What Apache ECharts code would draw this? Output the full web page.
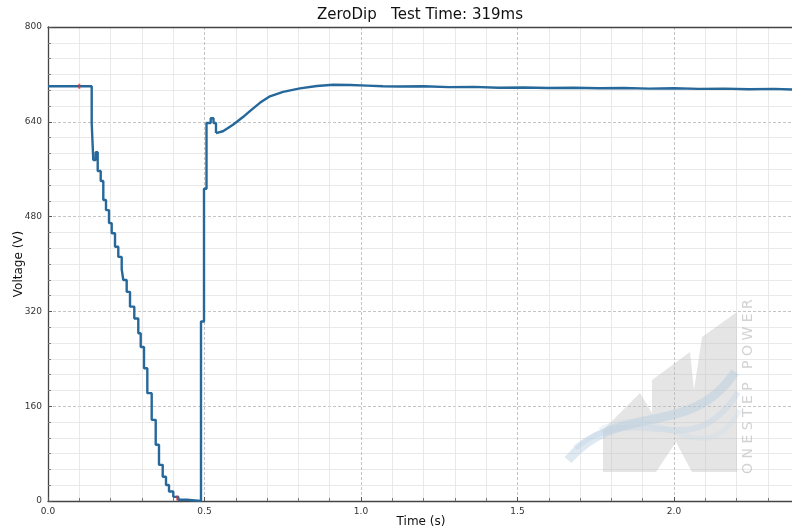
<!DOCTYPE html>
<html>
<head>
<meta charset="utf-8">
<script src="https://cdn.jsdelivr.net/npm/echarts@6/dist/echarts.min.js"></script>
<style>
  html, body { margin: 0; padding: 0; background: #fff; }
  #chart { width: 792px; height: 531px; }
</style>
</head>
<body>
<div id="chart"></div>
<script>
// Dip phase: RMS steps (value changes at each time)
const stepTime = [0, 0.1396, 0.1447, 0.1524, 0.1588, 0.1684, 0.1767, 0.1853, 0.1949, 0.2035,
  0.2141, 0.2246, 0.2355, 0.2406, 0.2514, 0.2620, 0.2757, 0.2885, 0.2962, 0.3067,
  0.3173, 0.3313, 0.3441, 0.3546, 0.3665, 0.3770, 0.3866, 0.4003, 0.4163, 0.4431,
  0.4888, 0.4984, 0.5064, 0.5198, 0.5288, 0.5367];
const stepVolt = [700, 638, 575.5, 588.5, 557, 540, 508, 491, 469, 452,
  429, 412, 391, 373, 353, 328, 308, 283, 260, 224,
  182, 137, 95, 61, 41, 27, 16, 7, 2, 0,
  303, 527, 638, 646, 638, 621];

// Recovery phase
const recTime = [0.5367, 0.559, 0.591, 0.623, 0.645, 0.677, 0.709, 0.751, 0.805, 0.859,
  0.911, 0.965, 1.019, 1.07, 1.125, 1.2, 1.28, 1.36, 1.44, 1.52,
  1.6, 1.68, 1.76, 1.84, 1.92, 2.0, 2.08, 2.16, 2.24, 2.32, 2.377];
const recVolt = [621, 624, 635, 648, 658, 672, 683, 690.5, 696.5, 700.5,
  702.5, 702, 701, 700, 699.5, 700, 698.5, 699, 697.5, 698,
  697, 697.5, 696.5, 697, 696, 696.5, 695.5, 696, 695, 695.5, 694.5];

// small red markers peeking from under the trace
const redTime = [0.1, 0.413];
const redVolt = [700, 5];

const xMax = 2.377;
const yTicks = [0, 160, 320, 480, 640, 800];
const xTicks = ["0.0", "0.5", "1.0", "1.5", "2.0"];

const lineColor = "#27689a";
const chart = echarts.init(document.getElementById("chart"));

const pair = (t, v) => t.map((x, i) => [x, v[i]]);

const option = {
  animation: false,
  backgroundColor: "#fff",
  grid: { left: 48, top: 27, right: 0, bottom: 30, containLabel: false, outerBoundsMode: "none" },
  xAxis: [
    {
      type: "value",
      min: 0,
      max: xMax,
      interval: 0.5,
      axisLine: { show: true, lineStyle: { color: "#444", width: 1.3 } },
      axisTick: { show: true, inside: true, length: 4, lineStyle: { color: "#555" } },
      minorTick: { show: true, splitNumber: 5, length: 3, lineStyle: { color: "#777" } },
      axisLabel: {
        color: "#333", fontSize: 9, margin: 6, fontFamily: "DejaVu Sans",
        showMaxLabel: false,
        formatter: v => xTicks[Math.round(v / 0.5)] ?? ""
      },
      splitLine: { show: true, lineStyle: { color: "#b5b5b5", type: [3, 2], width: 0.8 } },
      minorSplitLine: { show: true, lineStyle: { color: "#e3e3e3", width: 0.8 } }
    },
    {
      type: "value",
      position: "top",
      min: 0,
      max: xMax,
      axisLine: { show: true, lineStyle: { color: "#444", width: 1.3 } },
      axisTick: { show: false },
      axisLabel: { show: false },
      splitLine: { show: false }
    }
  ],
  yAxis: {
    type: "value",
    min: 0,
    max: 800,
    interval: 160,
    axisLine: { show: true, lineStyle: { color: "#444", width: 1.3 } },
    axisTick: { show: true, inside: true, length: 4, lineStyle: { color: "#555" } },
    minorTick: { show: true, splitNumber: 6, length: 3, lineStyle: { color: "#777" } },
    axisLabel: {
      color: "#333", fontSize: 9, margin: 6, fontFamily: "DejaVu Sans",
      formatter: v => (yTicks.includes(v) ? String(v) : "")
    },
    name: "Voltage (V)",
    nameLocation: "middle",
    nameGap: 23,
    nameMoveOverlap: false,
    nameTextStyle: { color: "#111", fontSize: 12, fontFamily: "DejaVu Sans" },
    splitLine: { show: true, lineStyle: { color: "#b5b5b5", type: [3, 2], width: 0.8 } },
    minorSplitLine: { show: true, lineStyle: { color: "#e3e3e3", width: 0.8 } }
  },
  graphic: [
    {
      type: "text", x: 420, y: 8, z: 10,
      style: {
        text: "ZeroDip   Test Time: 319ms", textAlign: "center",
        fontSize: 15, fontFamily: "DejaVu Sans", fill: "#111"
      }
    },
    {
      type: "text", x: 421, y: 516, z: 10,
      style: {
        text: "Time (s)", textAlign: "center",
        fontSize: 12, fontFamily: "DejaVu Sans", fill: "#111"
      }
    },
    // watermark logo
    {
      type: "polygon", z: 1,
      shape: {
        points: [[603, 472], [603, 430], [640, 393], [652, 413], [652, 380], [690, 352],
          [694, 390], [702, 337], [737, 312], [737, 472], [692, 472], [676, 442], [656, 472]]
      },
      style: { fill: "rgba(190,190,190,0.4)" }
    },
    {
      type: "bezierCurve", z: 2,
      shape: { x1: 568, y1: 460, x2: 735, y2: 372, cpx1: 620, cpy1: 400, cpx2: 690, cpy2: 440 },
      style: { stroke: "rgba(175,200,220,0.4)", lineWidth: 9, fill: "none" }
    },
    {
      type: "bezierCurve", z: 2,
      shape: { x1: 575, y1: 448, x2: 738, y2: 392, cpx1: 640, cpy1: 395, cpx2: 690, cpy2: 470 },
      style: { stroke: "rgba(190,210,228,0.35)", lineWidth: 6, fill: "none" }
    },
    {
      type: "bezierCurve", z: 2,
      shape: { x1: 600, y1: 430, x2: 740, y2: 410, cpx1: 660, cpy1: 395, cpx2: 700, cpy2: 480 },
      style: { stroke: "rgba(200,218,232,0.3)", lineWidth: 5, fill: "none" }
    },
    {
      type: "text", x: 741, y: 474, z: 2, rotation: Math.PI / 2,
      style: {
        text: "O N E S T E P   P O W E R",
        fontSize: 14, fontFamily: "DejaVu Sans", fill: "rgba(180,180,180,0.6)"
      }
    }
  ],
  series: [
    {
      type: "line",
      step: "end",
      data: pair(stepTime, stepVolt),
      showSymbol: false,
      lineStyle: { color: lineColor, width: 2.4 },
      z: 5
    },
    {
      type: "line",
      data: pair(recTime, recVolt),
      showSymbol: false,
      lineStyle: { color: lineColor, width: 2.4 },
      z: 5
    },
    {
      type: "scatter",
      data: pair(redTime, redVolt),
      symbol: "rect",
      symbolSize: [2, 5],
      itemStyle: { color: "#e03030" },
      z: 6
    }
  ]
};

chart.setOption(option);
</script>
</body>
</html>
